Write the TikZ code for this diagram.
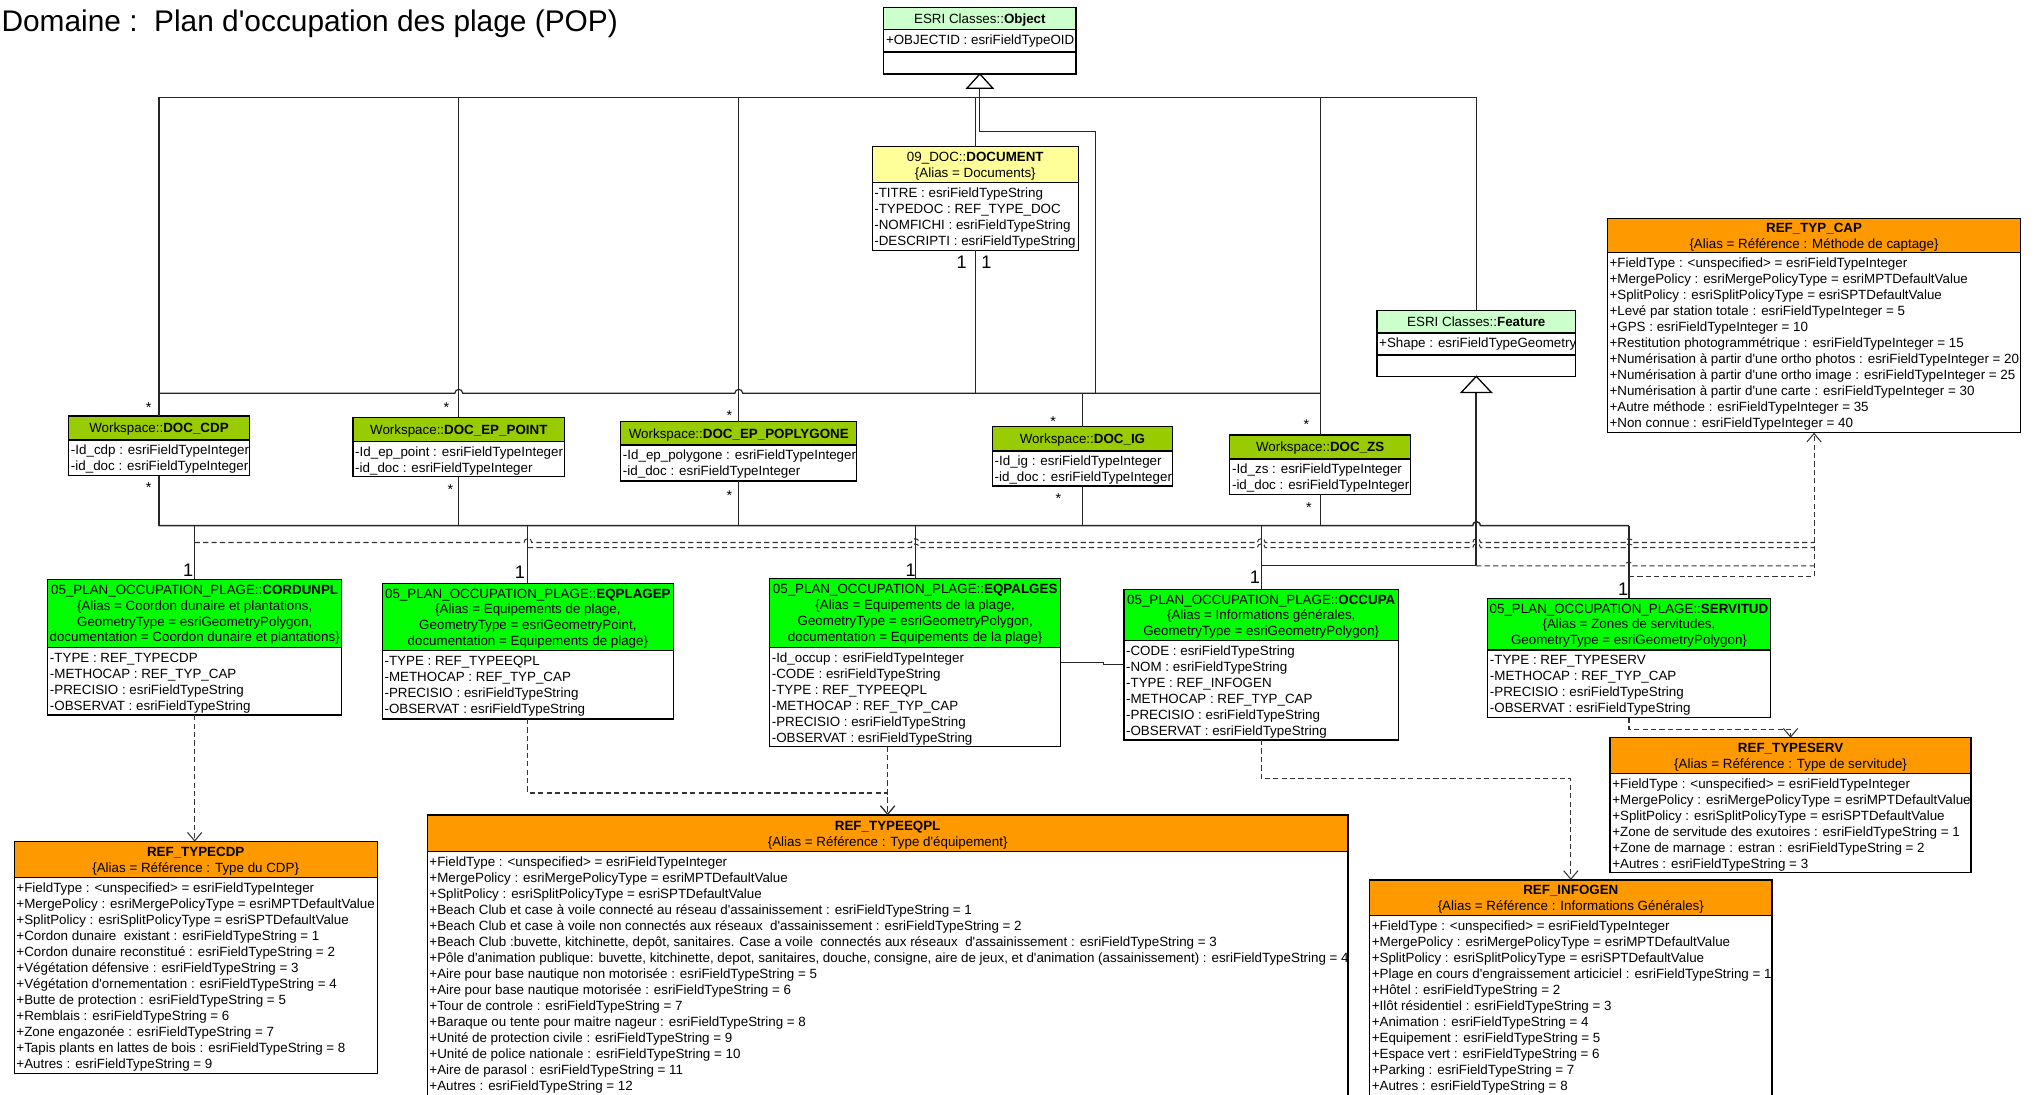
\documentclass[tikz,border=0pt]{standalone}
\usepackage{fontspec}
\setmainfont{Liberation Sans}[Ligatures=TeXOff]
\usetikzlibrary{arrows.meta}
\definecolor{esri}{HTML}{CCFFCC}
\definecolor{docy}{HTML}{FFFF99}
\definecolor{wsg}{HTML}{99CC00}
\definecolor{fg}{HTML}{00FF00}
\definecolor{refo}{HTML}{FF9900}
\newcommand\classbox[7]{%
  \fill[#7] (#2,#3) rectangle (#4,#5);
  \node[boxline, anchor=north west, outer sep=0pt, inner sep=0pt,
    minimum width={(#4-#2)*1pt}, minimum height={(#6-#3)*1pt}] (#1) at (#2,#3) {};
  \draw[boxline] (#2,#5) -- (#4,#5);
}
\newcommand\hdr[7]{%
  \foreach \rowtext [count=\rownum] in {#7} {
    \node[txt, anchor=base] (#1-h\rownum) at ({(#2+#3)/2}, {(#4+#5)/2+(\rownum-(#6+1)/2)*12.2+3.7}) {\rowtext};
  }%
}
\newcommand\attrs[4]{%
  \foreach \rowtext [count=\rownum] in {#4} {
    \node[txt, anchor=base west] (#1-a\rownum) at ({#2+1.5}, {#3+11.4+(\rownum-1)*12.33}) {\rowtext};
  }%
}
\begin{document}
\begin{tikzpicture}[x=1pt, y=-1pt,
  txt/.style={inner sep=0pt, font=\fontsize{10.3}{12.33}\selectfont},
  boxline/.style={draw=black, line width=1pt},
  conn/.style={draw=black!85, line width=0.9pt},
  dep/.style={draw=black!80, line width=0.8pt, dash pattern=on 4pt off 2.5pt},
  dar/.style={-{Straight Barb[length=6.5pt,width=11pt]}},
  mult/.style={inner sep=0pt, font=\fontsize{14}{14}\selectfont},
  star/.style={inner sep=0pt, font=\fontsize{11}{11}\selectfont}]
\useasboundingbox (0,0) rectangle (1568,843);
\clip (0,0) rectangle (1568,843);
\fill[white] (0,0) rectangle (1568,843);

% title
\node[inner sep=0pt, anchor=base west, font=\fontsize{23}{23}\selectfont] (title) at (1,24) {Domaine :\ \ Plan d'occupation des plage (POP)};

% ---------- boxes ----------
\classbox{obj}{681}{6}{829}{23}{57}{esri}
\draw[boxline] (681,40) -- (829,40);
\hdr{obj}{681}{829}{6}{23}{1}{{ESRI Classes::\textbf{Object}}}
\attrs{obj}{681}{23}{{+OBJECTID : esriFieldTypeOID}}

\classbox{feat}{1061}{239}{1214}{256.5}{290}{esri}
\draw[boxline] (1061,273.5) -- (1214,273.5);
\hdr{feat}{1061}{1214}{239}{256.5}{1}{{ESRI Classes::\textbf{Feature}}}
\attrs{feat}{1061}{256.5}{{+Shape : esriFieldTypeGeometry}}

\classbox{doc}{672}{113}{831}{140.5}{193}{docy}
\hdr{doc}{672}{831}{113}{140.5}{2}{{09\_DOC::\textbf{DOCUMENT}},{\{Alias = Documents\}}}
\attrs{doc}{672}{140.5}{{-TITRE : esriFieldTypeString},{-TYPEDOC : REF\_TYPE\_DOC},{-NOMFICHI : esriFieldTypeString},{-DESCRIPTI : esriFieldTypeString}}

\classbox{cdp}{53}{320.5}{192}{339}{366.5}{wsg}
\hdr{cdp}{53}{192}{320.5}{339}{1}{{Workspace::\textbf{DOC\_CDP}}}
\attrs{cdp}{53}{339}{{-Id\_cdp : esriFieldTypeInteger},{-id\_doc : esriFieldTypeInteger}}

\classbox{pt}{272}{321.5}{435}{340.3}{367.3}{wsg}
\hdr{pt}{272}{435}{321.5}{340.3}{1}{{Workspace::\textbf{DOC\_EP\_POINT}}}
\attrs{pt}{272}{340.3}{{-Id\_ep\_point : esriFieldTypeInteger},{-id\_doc : esriFieldTypeInteger}}

\classbox{poly}{478.3}{325}{660.2}{342.9}{370.6}{wsg}
\hdr{poly}{478.3}{660.2}{325}{342.9}{1}{{Workspace::\textbf{DOC\_EP\_POPLYGONE}}}
\attrs{poly}{478.3}{342.9}{{-Id\_ep\_polygone : esriFieldTypeInteger},{-id\_doc : esriFieldTypeInteger}}

\classbox{ig}{764.7}{328.8}{903.4}{347.5}{374.5}{wsg}
\hdr{ig}{764.7}{903.4}{328.8}{347.5}{1}{{Workspace::\textbf{DOC\_IG}}}
\attrs{ig}{764.7}{347.5}{{-Id\_ig : esriFieldTypeInteger},{-id\_doc : esriFieldTypeInteger}}

\classbox{zs}{947.6}{335.2}{1086.8}{353.7}{380.9}{wsg}
\hdr{zs}{947.6}{1086.8}{335.2}{353.7}{1}{{Workspace::\textbf{DOC\_ZS}}}
\attrs{zs}{947.6}{353.7}{{-Id\_zs : esriFieldTypeInteger},{-id\_doc : esriFieldTypeInteger}}

\classbox{cord}{36.8}{446.4}{263.2}{498.8}{551}{fg}
\hdr{cord}{36.8}{263.2}{446.4}{498.8}{4}{{05\_PLAN\_OCCUPATION\_PLAGE::\textbf{CORDUNPL}},{\{Alias = Coordon dunaire et plantations,},{GeometryType = esriGeometryPolygon,},{documentation = Coordon dunaire et plantations\}}}
\attrs{cord}{36.8}{498.8}{{-TYPE : REF\_TYPECDP},{-METHOCAP : REF\_TYP\_CAP},{-PRECISIO : esriFieldTypeString},{-OBSERVAT : esriFieldTypeString}}

\classbox{eqp}{294.6}{449.5}{518.9}{501.4}{554}{fg}
\hdr{eqp}{294.6}{518.9}{449.5}{501.4}{4}{{05\_PLAN\_OCCUPATION\_PLAGE::\textbf{EQPLAGEP}},{\{Alias = Equipements de plage,},{GeometryType = esriGeometryPoint,},{documentation = Equipements de plage\}}}
\attrs{eqp}{294.6}{501.4}{{-TYPE : REF\_TYPEEQPL},{-METHOCAP : REF\_TYP\_CAP},{-PRECISIO : esriFieldTypeString},{-OBSERVAT : esriFieldTypeString}}

\classbox{eqa}{593}{445.6}{817.3}{498.8}{575.3}{fg}
\hdr{eqa}{593}{817.3}{445.6}{498.8}{4}{{05\_PLAN\_OCCUPATION\_PLAGE::\textbf{EQPALGES}},{\{Alias = Equipements de la plage,},{GeometryType = esriGeometryPolygon,},{documentation = Equipements de la plage\}}}
\attrs{eqa}{593}{498.8}{{-Id\_occup : esriFieldTypeInteger},{-CODE : esriFieldTypeString},{-TYPE : REF\_TYPEEQPL},{-METHOCAP : REF\_TYP\_CAP},{-PRECISIO : esriFieldTypeString},{-OBSERVAT : esriFieldTypeString}}

\classbox{occ}{866}{454.1}{1077.6}{493.7}{570.2}{fg}
\hdr{occ}{866}{1077.6}{454.1}{493.7}{3}{{05\_PLAN\_OCCUPATION\_PLAGE::\textbf{OCCUPA}},{\{Alias = Informations générales,},{GeometryType = esriGeometryPolygon\}}}
\attrs{occ}{866}{493.7}{{-CODE : esriFieldTypeString},{-NOM : esriFieldTypeString},{-TYPE : REF\_INFOGEN},{-METHOCAP : REF\_TYP\_CAP},{-PRECISIO : esriFieldTypeString},{-OBSERVAT : esriFieldTypeString}}

\classbox{sv}{1146.3}{461}{1364}{500.8}{553}{fg}
\hdr{sv}{1146.3}{1364}{461}{500.8}{3}{{05\_PLAN\_OCCUPATION\_PLAGE::\textbf{SERVITUD}},{\{Alias = Zones de servitudes,},{GeometryType = esriGeometryPolygon\}}}
\attrs{sv}{1146.3}{500.8}{{-TYPE : REF\_TYPESERV},{-METHOCAP : REF\_TYP\_CAP},{-PRECISIO : esriFieldTypeString},{-OBSERVAT : esriFieldTypeString}}

\classbox{cap}{1238.5}{168.2}{1557}{194.7}{333.4}{refo}
\hdr{cap}{1238.5}{1557}{168.2}{194.7}{2}{{\textbf{REF\_TYP\_CAP}},{\{Alias = Référence : Méthode de captage\}}}
\attrs{cap}{1238.5}{194.7}{{+FieldType : <unspecified> = esriFieldTypeInteger},{+MergePolicy : esriMergePolicyType = esriMPTDefaultValue},{+SplitPolicy : esriSplitPolicyType = esriSPTDefaultValue},{+Levé par station totale : esriFieldTypeInteger = 5},{+GPS : esriFieldTypeInteger = 10},{+Restitution photogrammétrique : esriFieldTypeInteger = 15},{+Numérisation à partir d'une ortho photos : esriFieldTypeInteger = 20},{+Numérisation à partir d'une ortho image : esriFieldTypeInteger = 25},{+Numérisation à partir d'une carte : esriFieldTypeInteger = 30},{+Autre méthode : esriFieldTypeInteger = 35},{+Non connue : esriFieldTypeInteger = 40}}

\classbox{serv}{1240.6}{568.4}{1518.7}{595.9}{672.4}{refo}
\hdr{serv}{1240.6}{1518.7}{568.4}{595.9}{2}{{\textbf{REF\_TYPESERV}},{\{Alias = Référence : Type de servitude\}}}
\attrs{serv}{1240.6}{595.9}{{+FieldType : <unspecified> = esriFieldTypeInteger},{+MergePolicy : esriMergePolicyType = esriMPTDefaultValue},{+SplitPolicy : esriSplitPolicyType = esriSPTDefaultValue},{+Zone de servitude des exutoires : esriFieldTypeString = 1},{+Zone de marnage : estran : esriFieldTypeString = 2},{+Autres : esriFieldTypeString = 3}}

\classbox{info}{1055.3}{678}{1365.4}{705.6}{848}{refo}
\hdr{info}{1055.3}{1365.4}{678}{705.6}{2}{{\textbf{REF\_INFOGEN}},{\{Alias = Référence : Informations Générales\}}}
\attrs{info}{1055.3}{705.6}{{+FieldType : <unspecified> = esriFieldTypeInteger},{+MergePolicy : esriMergePolicyType = esriMPTDefaultValue},{+SplitPolicy : esriSplitPolicyType = esriSPTDefaultValue},{+Plage en cours d'engraissement articiciel : esriFieldTypeString = 1},{+Hôtel : esriFieldTypeString = 2},{+Ilôt résidentiel : esriFieldTypeString = 3},{+Animation : esriFieldTypeString = 4},{+Equipement : esriFieldTypeString = 5},{+Espace vert : esriFieldTypeString = 6},{+Parking : esriFieldTypeString = 7},{+Autres : esriFieldTypeString = 8}}

\classbox{eqpl}{329.2}{628}{1038.7}{656.3}{848}{refo}
\hdr{eqpl}{329.2}{1038.7}{628}{656.3}{2}{{\textbf{REF\_TYPEEQPL}},{\{Alias = Référence : Type d'équipement\}}}
\attrs{eqpl}{329.2}{656.3}{{+FieldType : <unspecified> = esriFieldTypeInteger},{+MergePolicy : esriMergePolicyType = esriMPTDefaultValue},{+SplitPolicy : esriSplitPolicyType = esriSPTDefaultValue},{+Beach Club et case à voile connecté au réseau d'assainissement : esriFieldTypeString = 1},{+Beach Club et case à voile non connectés aux réseaux\ \ d'assainissement : esriFieldTypeString = 2},{+Beach Club :buvette, kitchinette, depôt, sanitaires. Case a voile\ \ connectés aux réseaux\ \ d'assainissement : esriFieldTypeString = 3},{+Pôle d'animation publique: buvette, kitchinette, depot, sanitaires, douche, consigne, aire de jeux, et d'animation (assainissement) : esriFieldTypeString = 4},{+Aire pour base nautique non motorisée : esriFieldTypeString = 5},{+Aire pour base nautique motorisée : esriFieldTypeString = 6},{+Tour de controle : esriFieldTypeString = 7},{+Baraque ou tente pour maitre nageur : esriFieldTypeString = 8},{+Unité de protection civile : esriFieldTypeString = 9},{+Unité de police nationale : esriFieldTypeString = 10},{+Aire de parasol : esriFieldTypeString = 11},{+Autres : esriFieldTypeString = 12}}

\classbox{tcdp}{11}{648.5}{290.6}{676}{827}{refo}
\hdr{tcdp}{11}{290.6}{648.5}{676}{2}{{\textbf{REF\_TYPECDP}},{\{Alias = Référence : Type du CDP\}}}
\attrs{tcdp}{11}{676}{{+FieldType : <unspecified> = esriFieldTypeInteger},{+MergePolicy : esriMergePolicyType = esriMPTDefaultValue},{+SplitPolicy : esriSplitPolicyType = esriSPTDefaultValue},{+Cordon dunaire\ \ existant : esriFieldTypeString = 1},{+Cordon dunaire reconstitué : esriFieldTypeString = 2},{+Végétation défensive : esriFieldTypeString = 3},{+Végétation d'ornementation : esriFieldTypeString = 4},{+Butte de protection : esriFieldTypeString = 5},{+Remblais : esriFieldTypeString = 6},{+Zone engazonée : esriFieldTypeString = 7},{+Tapis plants en lattes de bois : esriFieldTypeString = 8},{+Autres : esriFieldTypeString = 9}}

% ---------- generalisation to Object ----------
\coordinate (objbase) at ([yshift=-11pt]obj.south);
\draw[conn] (objbase) -- (objbase |- 0,101.5) -- (844,101.5) -- (844,303);
\draw[conn] (cdp.north |- 0,75) -- (feat.north |- 0,75);
\draw[conn] (doc.north) -- (doc.north |- 0,75);
\draw[conn] (cdp.north) -- (cdp.north |- 0,75);
\draw[conn] (pt.north) -- (pt.north |- 0,75);
\draw[conn] (poly.north) -- (poly.north |- 0,75);
\draw[conn] (zs.north) -- (zs.north |- 0,75);
\draw[conn] (feat.north) -- (feat.north |- 0,75);
\draw[boxline, fill=white] (obj.south) -- ++(-10,11) -- ++(20,0) -- cycle;

% ---------- associations with DOCUMENT ----------
\draw[conn, line width=1.2pt] (doc.south) -- (doc.south |- 0,303);
\draw[conn] (cdp.north |- 0,303) -- (350.5,303) arc[start angle=180,end angle=360,radius=3]
  -- (566.25,303) arc[start angle=180,end angle=360,radius=3] -- (zs.north |- 0,303);
\draw[conn] (ig.north) -- (ig.north |- 0,303);

% ---------- associations to feature classes ----------
\foreach \w in {cdp,pt,poly,ig,zs} {\draw[conn] (\w.south) -- (\w.south |- 0,405);}
\draw[conn, line width=1.1pt] (cdp.south |- 0,405) -- (1134.75,405) arc[start angle=180,end angle=360,radius=3] -- (sv.north |- 0,405);
\foreach \w in {cord,eqp,eqa,occ,sv} {\draw[conn] (\w.north) -- (\w.north |- 0,405);}

% ---------- generalisation to Feature ----------
\draw[conn] (occ.north |- 0,436) -- (feat.south |- 0,436);
\draw[conn, line width=1.4pt] ([yshift=-12.5pt]feat.south) -- (feat.south |- 0,436);
\draw[boxline, fill=white] (feat.south) -- ++(-11.7,12.5) -- ++(23.4,0) -- cycle;

% ---------- dependencies to REF_TYP_CAP ----------
\draw[dep] (cord.north |- 0,418) -- (403.75,418) arc[start angle=180,end angle=360,radius=3]
  -- (702.15,418) arc[start angle=180,end angle=360,radius=3]
  -- (968.8,418) arc[start angle=180,end angle=360,radius=3]
  -- (1134.75,418) arc[start angle=180,end angle=360,radius=3]
  -- (1252.15,418) arc[start angle=180,end angle=360,radius=3] -- (cap.south |- 0,418);
\draw[dep] (eqp.north |- 0,422) -- (702.15,422) arc[start angle=180,end angle=360,radius=3]
  -- (968.8,422) arc[start angle=180,end angle=360,radius=3]
  -- (1134.75,422) arc[start angle=180,end angle=360,radius=3]
  -- (1252.15,422) arc[start angle=180,end angle=360,radius=3] -- (cap.south |- 0,422);
\draw[dep] (feat.south |- 0,436) -- (1252.15,436) arc[start angle=180,end angle=360,radius=3] -- (cap.south |- 0,436);
\draw[dep] (sv.north |- 0,444) -- (cap.south |- 0,444);
\draw[dep, dar] (cap.south |- 0,444) -- (cap.south);

% ---------- other dependencies ----------
\draw[dep, dar] (cord.south) -- (cord.south |- tcdp.north);
\draw[dep, dar] (eqp.south) -- (eqp.south |- 0,611) -- (eqpl.north |- 0,611) -- (eqpl.north);
\draw[dep, dar] (eqpl.north |- eqa.south) -- (eqpl.north);
\draw[dep, dar] (occ.south) -- (occ.south |- 0,600) -- (info.north |- 0,600) -- (info.north);
\draw[dep, dar] (sv.south) -- (sv.south |- 0,562) -- (serv.north |- 0,562) -- (serv.north);

% ---------- EQPALGES -- OCCUPA ----------
\draw[conn] (eqa.east) -- (850,510.45) -- (850,512.15) -- (occ.west);

% ---------- multiplicities ----------
\node[mult] (m1) at (741,202.4) {1};
\node[mult] (m2) at (760,202.4) {1};
\node[mult] (m3) at (145,439) {1};
\node[mult] (m4) at (400.6,441) {1};
\node[mult] (m5) at (701.6,439) {1};
\node[mult] (m6) at (967,444.6) {1};
\node[mult] (m7) at (1250.6,454) {1};
\node[star] (s1) at (114.5,314) {*};
\node[star] (s2) at (114.5,376) {*};
\node[star] (s3) at (344,314) {*};
\node[star] (s4) at (347,377) {*};
\node[star] (s5) at (562,320.5) {*};
\node[star] (s6) at (562,382) {*};
\node[star] (s7) at (811.4,325) {*};
\node[star] (s8) at (815.5,384.5) {*};
\node[star] (s9) at (1006.6,327) {*};
\node[star] (s10) at (1008.5,391) {*};
\end{tikzpicture}
\end{document}
